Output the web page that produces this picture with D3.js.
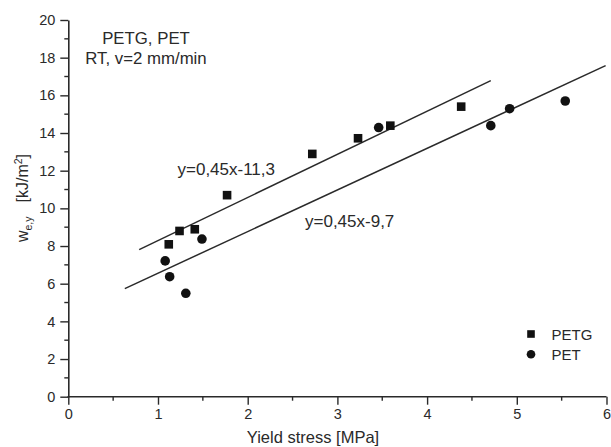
<!DOCTYPE html>
<html>
<head>
<meta charset="utf-8">
<script src="https://cdn.jsdelivr.net/npm/d3@7"></script>
<style>
  html, body { margin: 0; padding: 0; background: #fff; }
  svg { display: block; font-family: "Liberation Sans", Arial, sans-serif; }
</style>
</head>
<body>
<svg id="chart" width="611" height="447"></svg>
<script>
// Yield stress [MPa] and essential work w_e,y [kJ/m²]
const petgStress = [1.12, 1.24, 1.41, 1.77, 2.72, 3.23, 3.59, 4.38];
const petgWork   = [8.09, 8.80, 8.89, 10.70, 12.89, 13.72, 14.39, 15.40];
const petStress  = [1.08, 1.13, 1.31, 1.49, 3.46, 4.71, 4.92, 5.54];
const petWork    = [7.21, 6.37, 5.49, 8.37, 14.29, 14.39, 15.29, 15.70];

// Regression line end points [stress, work]
const petgFit = [[0.79, 7.81], [4.71, 16.78]];
const petFit  = [[0.63, 5.74], [5.99, 17.58]];

const fitLabels = ["y=0,45x-11,3", "y=0,45x-9,7"];
const seriesNames = ["PETG", "PET"];
const titleLines = ["PETG, PET", "RT, v=2 mm/min"];

const xTicks = [0, 1, 2, 3, 4, 5, 6];
const yTicks = [0, 2, 4, 6, 8, 10, 12, 14, 16, 18, 20];
const xMinor = d3.range(0.5, 6, 1);
const yMinor = d3.range(1, 20, 2);

const svg = d3.select("#chart");
const ink = "#2a2a2a";

const x = d3.scaleLinear().domain([0, 6]).range([68.3, 606.5]);
const y = d3.scaleLinear().domain([0, 20]).range([396.7, 20]);

// Axes
const xAxis = svg.append("g").attr("transform", `translate(0,${y(0)})`)
  .call(d3.axisBottom(x).tickValues(xTicks).tickFormat(d3.format("d")).tickSizeInner(8).tickSizeOuter(0).tickPadding(4));
const yAxis = svg.append("g").attr("transform", `translate(${x(0)},0)`)
  .call(d3.axisLeft(y).tickValues(yTicks).tickFormat(d3.format("d")).tickSizeInner(8).tickSizeOuter(0).tickPadding(5));

[xAxis, yAxis].forEach(g => {
  g.select(".domain").attr("stroke", ink).attr("stroke-width", 1.6);
  g.selectAll(".tick line").attr("stroke", ink).attr("stroke-width", 1.4);
  g.selectAll(".tick text").attr("fill", ink).attr("font-size", 14.5)
    .attr("font-family", "Liberation Sans, Arial, sans-serif");
});
// Extend x domain to meet y axis cleanly
xAxis.select(".domain").attr("d", `M${x(0) - 0.8},0H${x(6)}`);

// Minor ticks
svg.append("g").selectAll("line").data(xMinor).join("line")
  .attr("x1", d => x(d)).attr("x2", d => x(d))
  .attr("y1", y(0)).attr("y2", y(0) + 4)
  .attr("stroke", ink).attr("stroke-width", 1.4);
svg.append("g").selectAll("line").data(yMinor).join("line")
  .attr("x1", x(0) - 4).attr("x2", x(0))
  .attr("y1", d => y(d)).attr("y2", d => y(d))
  .attr("stroke", ink).attr("stroke-width", 1.4);

// Axis titles
svg.append("text")
  .attr("x", 313).attr("y", 442.5)
  .attr("text-anchor", "middle").attr("font-size", 16.5).attr("fill", ink)
  .text("Yield stress [MPa]");

const yTitle = svg.append("text")
  .attr("transform", "translate(27.5,198) rotate(-90)")
  .attr("text-anchor", "middle").attr("font-size", 16).attr("fill", ink);
yTitle.append("tspan").text("w");
yTitle.append("tspan").attr("font-size", 10.5).attr("dy", 4).text("e,y");
yTitle.append("tspan").attr("dy", -4).attr("dx", 14).text("[kJ/m");
yTitle.append("tspan").attr("font-size", 10.5).attr("dy", -6).text("2");
yTitle.append("tspan").attr("dy", 6).text("]");

// Fit lines
const line = d3.line().x(d => x(d[0])).y(d => y(d[1]));
[petgFit, petFit].forEach(f => {
  svg.append("path").attr("d", line(f))
    .attr("fill", "none").attr("stroke", ink).attr("stroke-width", 1.5);
});

// Markers
const petg = petgStress.map((s, i) => [s, petgWork[i]]);
const pet = petStress.map((s, i) => [s, petWork[i]]);
const sq = 8.6;
svg.append("g").selectAll("rect").data(petg).join("rect")
  .attr("x", d => x(d[0]) - sq / 2).attr("y", d => y(d[1]) - sq / 2)
  .attr("width", sq).attr("height", sq).attr("fill", "#111");
svg.append("g").selectAll("circle").data(pet).join("circle")
  .attr("cx", d => x(d[0])).attr("cy", d => y(d[1])).attr("r", 4.8).attr("fill", "#111");

// Equation labels
svg.append("text").attr("x", 177.5).attr("y", 175).attr("font-size", 17).attr("fill", ink).text(fitLabels[0]);
svg.append("text").attr("x", 305).attr("y", 226.5).attr("font-size", 17).attr("fill", ink).text(fitLabels[1]);

// Condition text
svg.append("g").selectAll("text").data(titleLines).join("text")
  .attr("x", 146).attr("y", (d, i) => 44.3 + i * 19.2)
  .attr("text-anchor", "middle").attr("font-size", 16.8).attr("fill", ink)
  .text(d => d);

// Legend
const leg = svg.append("g");
leg.append("rect").attr("x", 531 - 3.8).attr("y", 334 - 3.8).attr("width", 7.6).attr("height", 7.6).attr("fill", "#111");
leg.append("circle").attr("cx", 531).attr("cy", 354.3).attr("r", 4.3).attr("fill", "#111");
leg.selectAll("text").data(seriesNames).join("text")
  .attr("x", 551.5).attr("y", (d, i) => 339.5 + i * 20)
  .attr("font-size", 15).attr("fill", ink).text(d => d);
</script>
</body>
</html>
